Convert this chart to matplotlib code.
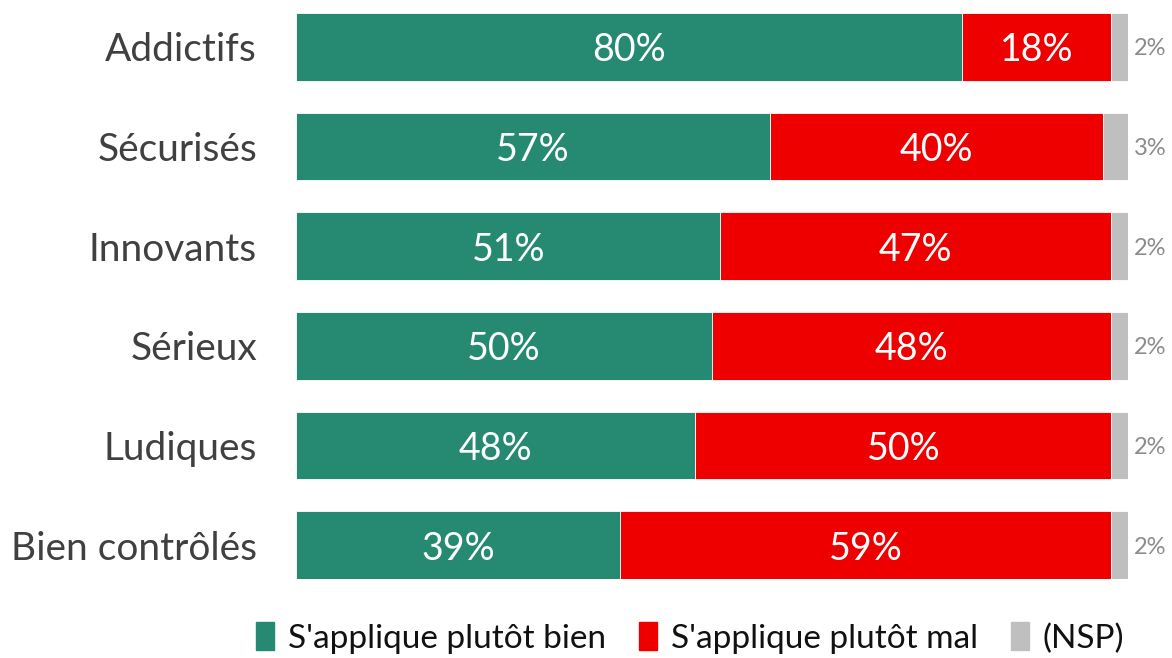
import numpy as np
import matplotlib.pyplot as plt
from matplotlib.patches import Patch

plt.rcParams['font.family'] = ['Lato', 'DejaVu Sans']

categories = ["Addictifs", "Sécurisés", "Innovants", "Sérieux", "Ludiques", "Bien contrôlés"]
bien = [80, 57, 51, 50, 48, 39]
mal = [18, 40, 47, 48, 50, 59]
nsp = [2, 3, 2, 2, 2, 2]

green = "#268a72"
red = "#ee0000"
grey = "#bfbfbf"

fig = plt.figure(figsize=(11.72, 6.58), dpi=100)
ax = fig.add_axes([296/1172, (658-579)/658, (1128-296)/1172, 566/658])

y = np.arange(len(categories))
h = 0.68
bien = np.array(bien)
mal = np.array(mal)
nsp = np.array(nsp)

ax.barh(y, bien, height=h, color=green, edgecolor="white", linewidth=0.6)
ax.barh(y, mal, left=bien, height=h, color=red, edgecolor="white", linewidth=0.6)
ax.barh(y, nsp, left=bien+mal, height=h, color=grey, edgecolor="white", linewidth=0.6)

for i in range(len(categories)):
    ax.text(bien[i]/2, y[i], f"{bien[i]}%", ha="center", va="center_baseline",
            color="white", fontsize=27)
    ax.text(bien[i] + mal[i]/2, y[i], f"{mal[i]}%", ha="center", va="center_baseline",
            color="white", fontsize=27)
    ax.text(bien[i] + mal[i] + nsp[i] + 0.7, y[i], f"{nsp[i]}%", ha="left",
            va="center_baseline", color="#8c8c8c", fontsize=17)

ax.set_xlim(0, 100)
ax.set_ylim(len(categories) - 1 + 0.34, -0.34)
ax.set_yticks(y)
ax.set_yticklabels(categories, fontsize=28, color="#404040")
ax.tick_params(axis="y", length=0, pad=28)
ax.set_xticks([])
for s in ax.spines.values():
    s.set_visible(False)

handles = [Patch(color=green, label="S'applique plutôt bien"),
           Patch(color=red, label="S'applique plutôt mal"),
           Patch(color=grey, label="(NSP)")]
fig.legend(handles=handles, loc="center", bbox_to_anchor=(690/1172, 1 - 638/658),
           ncol=3, frameon=False, fontsize=24, handlelength=0.55, handleheight=0.9,
           handletextpad=0.4, columnspacing=1.0, labelcolor="#111111")

fig.savefig("out.png", dpi=100)
